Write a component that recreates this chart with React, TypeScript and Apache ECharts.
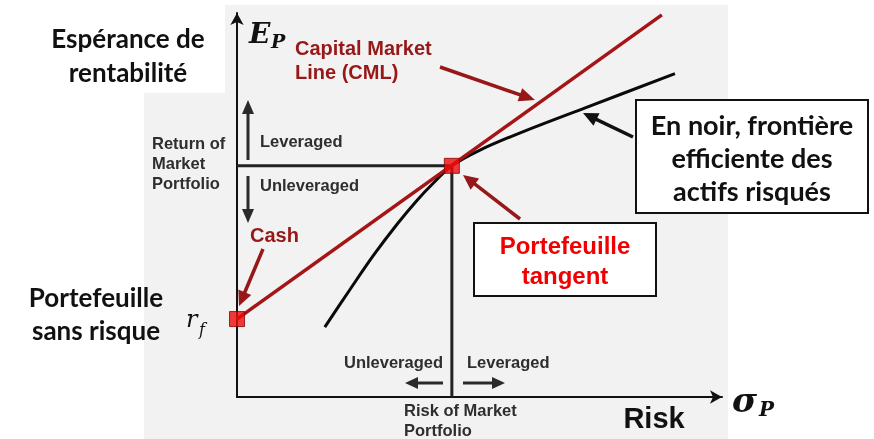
import React, { useEffect, useRef } from "react";
import * as echarts from "echarts";

// ---- Data (in chart units: sigma on x, expected return on y) ----
const frontierSigma = [1.81, 2.33, 2.82, 3.3, 3.71, 4.04, 4.43, 5.01, 5.84, 7.22, 9.03];
const frontierReturn = [1.82, 2.8, 3.7, 4.5, 5.12, 5.56, 6.02, 6.43, 6.88, 7.55, 8.42];
const riskFree = 2.03;
const marketSigma = 4.43;
const marketReturn = 6.02;
const cmlEndSigma = 8.76;
const cmlEndReturn = 9.95;
const axisMax = 10;

const DARK_RED = "#961818";
const GRAY_TXT = "#2e2e2e";

function arrow(x1: number, y1: number, x2: number, y2: number, color: string, w: number, L: number, W: number) {
  const dx = x2 - x1, dy = y2 - y1;
  const len = Math.hypot(dx, dy);
  const ux = dx / len, uy = dy / len;
  const bx = x2 - ux * L, by = y2 - uy * L;
  const px = -uy, py = ux;
  return [
    { type: "line", z: 50, shape: { x1, y1, x2: bx + ux * 2, y2: by + uy * 2 }, style: { stroke: color, lineWidth: w } },
    {
      type: "polygon",
      z: 50,
      shape: { points: [[x2, y2], [bx + px * W, by + py * W], [bx - px * W, by - py * W]] },
      style: { fill: color },
    },
  ];
}

function txt(x: number, y: number, text: string, font: string, fill: string, align = "left") {
  return {
    type: "text",
    z: 60,
    x,
    y,
    style: { text, font, fill, textAlign: align, textVerticalAlign: "middle" },
  };
}

export default function App() {
  const ref = useRef<HTMLDivElement>(null);
  useEffect(() => {
    if (!ref.current) return;
    const chart = echarts.init(ref.current, undefined, { renderer: "svg" });
    const grayFont = "bold 16.5px 'Liberation Sans', Arial, sans-serif";
    const bigFont = "bold 26px Lato, 'Open Sans', sans-serif";
    const boxFont = "bold 27px Lato, 'Open Sans', sans-serif";
    const graphic: any[] = [
      { type: "rect", z: -100, shape: { x: 144, y: 5, width: 584, height: 440 }, style: { fill: "#f2f2f2" } },
      { type: "rect", z: -90, shape: { x: 0, y: 0, width: 225, height: 93 }, style: { fill: "#ffffff" } },
      // left titles
      txt(128, 38, "Espérance de", bigFont, "#111", "center"),
      txt(128, 72, "rentabilité", bigFont, "#111", "center"),
      txt(96, 297, "Portefeuille", bigFont, "#111", "center"),
      txt(96, 330, "sans risque", bigFont, "#111", "center"),
      // axis symbols
      txt(249, 33, "E", "italic bold 28px 'DejaVu Serif', serif", "#111"),
      txt(271, 41, "P", "italic bold 19px 'DejaVu Serif', serif", "#111"),
      txt(186, 319, "r", "italic 24px 'DejaVu Serif', serif", "#111"),
      txt(199, 329, "f", "italic 16px 'DejaVu Serif', serif", "#111"),
      txt(732, 400, "σ", "italic bold 34px 'DejaVu Serif', serif", "#111"),
      txt(759, 409, "P", "italic bold 20px 'DejaVu Serif', serif", "#111"),
      txt(654, 418, "Risk", "bold 29px 'Liberation Sans', Arial, sans-serif", "#111", "center"),
      // CML label
      txt(295, 48, "Capital Market", "bold 20px 'Liberation Sans', Arial, sans-serif", DARK_RED),
      txt(295, 72, "Line (CML)", "bold 20px 'Liberation Sans', Arial, sans-serif", DARK_RED),
      ...arrow(440, 67, 535, 100, DARK_RED, 3.5, 16, 7),
      // Return of market portfolio
      txt(152, 143, "Return of", grayFont, GRAY_TXT),
      txt(152, 163, "Market", grayFont, GRAY_TXT),
      txt(152, 183, "Portfolio", grayFont, GRAY_TXT),
      txt(260, 141, "Leveraged", grayFont, GRAY_TXT),
      txt(260, 185, "Unleveraged", grayFont, GRAY_TXT),
      ...arrow(248, 160, 248, 100, "#2a2a2a", 3, 14, 6),
      ...arrow(248, 176, 248, 223, "#2a2a2a", 3, 14, 6),
      // Cash
      txt(250, 235, "Cash", "bold 20px 'Liberation Sans', Arial, sans-serif", DARK_RED),
      ...arrow(263, 249, 239, 306, DARK_RED, 3.5, 15, 7),
      // bottom annotations
      txt(344, 362, "Unleveraged", grayFont, GRAY_TXT),
      txt(467, 362, "Leveraged", grayFont, GRAY_TXT),
      ...arrow(443, 383, 405, 383, "#2a2a2a", 3, 13, 6),
      ...arrow(463, 383, 505, 383, "#2a2a2a", 3, 13, 6),
      txt(404, 410, "Risk of Market", grayFont, GRAY_TXT),
      txt(404, 430, "Portfolio", grayFont, GRAY_TXT),
      // frontier box
      {
        type: "rect",
        z: 55,
        shape: { x: 636, y: 100, width: 232, height: 113 },
        style: { fill: "#ffffff", stroke: "#111", lineWidth: 2 },
      },
      txt(752, 124, "En noir, frontière", boxFont, "#111", "center"),
      txt(752, 157, "efficiente des", boxFont, "#111", "center"),
      txt(752, 190, "actifs risqués", boxFont, "#111", "center"),
      ...arrow(633, 137, 583, 113, "#111", 3.5, 15, 7),
      // tangent box
      {
        type: "rect",
        z: 55,
        shape: { x: 474, y: 223, width: 182, height: 73 },
        style: { fill: "#ffffff", stroke: "#111", lineWidth: 2 },
      },
      txt(565, 245, "Portefeuille", "bold 24px 'Liberation Sans', Arial, sans-serif", "#f00000", "center"),
      txt(565, 275, "tangent", "bold 24px 'Liberation Sans', Arial, sans-serif", "#f00000", "center"),
      ...arrow(520, 219, 463, 175, DARK_RED, 3.5, 15, 7),
    ];

    chart.setOption({
      animation: false,
      grid: { left: 237, top: 13, width: 485, height: 384, containLabel: false },
      xAxis: {
        type: "value",
        min: 0,
        max: axisMax,
        splitLine: { show: false },
        axisTick: { show: false },
        axisLabel: { show: false },
        axisLine: { show: true, onZero: false, symbol: ["none", "arrow"], symbolSize: [10, 12], lineStyle: { color: "#111", width: 2 } },
      },
      yAxis: {
        type: "value",
        min: 0,
        max: axisMax,
        splitLine: { show: false },
        axisTick: { show: false },
        axisLabel: { show: false },
        axisLine: { show: true, onZero: false, symbol: ["none", "arrow"], symbolSize: [10, 12], lineStyle: { color: "#111", width: 2 } },
      },
      graphic,
      series: [
        {
          type: "line",
          z: 3,
          data: [
            [0, marketReturn],
            [marketSigma, marketReturn],
            [marketSigma, 0],
          ],
          symbol: "none",
          lineStyle: { color: "#222", width: 3 },
        },
        {
          type: "line",
          z: 4,
          data: frontierSigma.map((s, i) => [s, frontierReturn[i]]),
          smooth: 0.35,
          symbol: "none",
          lineStyle: { color: "#0a0a0a", width: 3 },
        },
        {
          type: "line",
          z: 5,
          data: [
            [0, riskFree],
            [cmlEndSigma, cmlEndReturn],
          ],
          symbol: "none",
          lineStyle: { color: "#a51515", width: 3.5 },
        },
        {
          type: "scatter",
          z: 6,
          data: [
            [0, riskFree],
            [marketSigma, marketReturn],
          ],
          symbol: "rect",
          symbolSize: 15,
          itemStyle: { color: "#ee0a0a", borderColor: "#8a0000", borderWidth: 1 },
        },
      ],
    });
    return () => chart.dispose();
  }, []);
  return <div ref={ref} style={{ position: "fixed", left: 0, top: 0, width: 874, height: 439 }} />;
}
